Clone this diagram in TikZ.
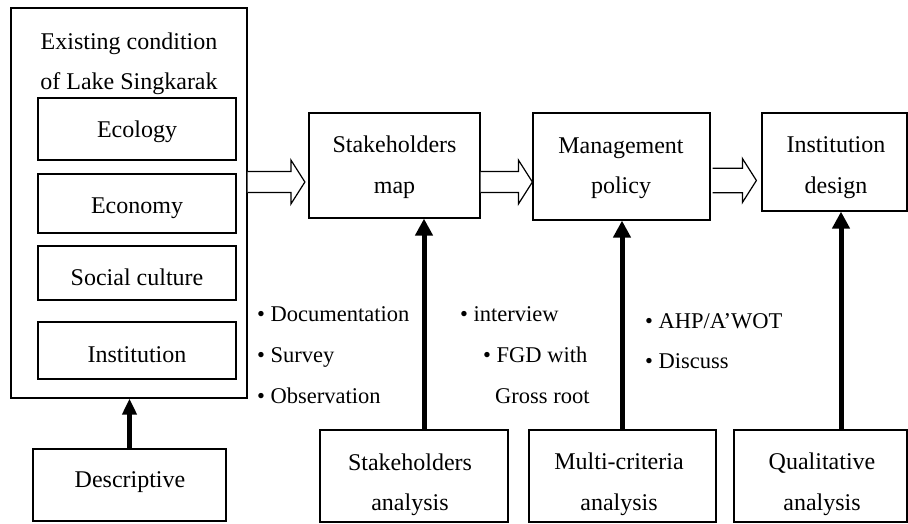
\documentclass[tikz,border=0pt]{standalone}
\usepackage{fontspec}
\setmainfont{Liberation Serif}
\usetikzlibrary{calc,arrows.meta}
\newcommand\hollowarrow[6]{% from, to, y centre, gap at start, gap at tip, shaft half height
  \draw[hollow]
    ($(#1.east |- 0,#3)+(#4,-#6)$) --
    ($(#2.west |- 0,#3)+(-14-#5,-#6)$) --
    ($(#2.west |- 0,#3)+(-14-#5,-22)$) --
    ($(#2.west |- 0,#3)+(-#5,0)$) --
    ($(#2.west |- 0,#3)+(-14-#5,22)$) --
    ($(#2.west |- 0,#3)+(-14-#5,#6)$) --
    ($(#1.east |- 0,#3)+(#4,#6)$);
}
\begin{document}
\begin{tikzpicture}[x=1pt,y=-1pt,
  box/.style={draw,line width=1.2pt,inner sep=0pt},
  hollow/.style={draw,line width=1.2pt,fill=white,line join=miter},
  thickarrow/.style={line width=5pt,-{Triangle[width=17pt,length=17pt]}},
  txt/.style={inner sep=0pt,anchor=base,font=\fontsize{24}{28}\selectfont},
  bul/.style={inner sep=0pt,anchor=base west,font=\fontsize{22.5}{27}\selectfont}]
\useasboundingbox (0,0) rectangle (908,523);
\clip (0,0) rectangle (908,523);
% boxes
\node[box,minimum width=236,minimum height=390] (outer) at (129,203) {};
\node[box,minimum width=198,minimum height=62] (eco) at (137,129) {};
\node[box,minimum width=198,minimum height=59] (econ) at (137,203.5) {};
\node[box,minimum width=198,minimum height=54] (soc) at (137,273) {};
\node[box,minimum width=198,minimum height=57] (inst) at (137,350.5) {};
\node[box,minimum width=193,minimum height=72] (desc) at (129.5,485) {};
\node[box,minimum width=171,minimum height=105] (sm) at (394.5,165.5) {};
\node[box,minimum width=177,minimum height=107] (mp) at (621.5,166.5) {};
\node[box,minimum width=145,minimum height=98] (id) at (834.5,162) {};
\node[box,minimum width=188,minimum height=92] (sa) at (414,476) {};
\node[box,minimum width=187,minimum height=92] (mc) at (622.5,476) {};
\node[box,minimum width=173,minimum height=92] (qa) at (820.5,476) {};
% texts in boxes
\node[txt] (t1) at (129,49) {Existing condition};
\node[txt] (t2) at (129,89) {of Lake Singkarak};
\node[txt] (teco) at (137,137) {Ecology};
\node[txt] (tecon) at (137,213) {Economy};
\node[txt] (tsoc) at (137,285) {Social culture};
\node[txt] (tinst) at (137,362) {Institution};
\node[txt] (tdesc) at (130,487) {Descriptive};
\node[txt] (tsm1) at (394.5,152) {Stakeholders};
\node[txt] (tsm2) at (394.5,193) {map};
\node[txt] (tmp1) at (621,153) {Management};
\node[txt] (tmp2) at (621,193) {policy};
\node[txt] (tid1) at (836,152) {Institution};
\node[txt] (tid2) at (836,193) {design};
\node[txt] (tsa1) at (410,470) {Stakeholders};
\node[txt] (tsa2) at (410,510) {analysis};
\node[txt] (tmc1) at (619,469) {Multi-criteria};
\node[txt] (tmc2) at (619,510) {analysis};
\node[txt] (tqa1) at (822,469) {Qualitative};
\node[txt] (tqa2) at (822,510) {analysis};
% bullet texts
\node[bul] (b1) at (257,321) {\textbullet\ Documentation};
\node[bul] (b2) at (257,362) {\textbullet\ Survey};
\node[bul] (b3) at (257,403) {\textbullet\ Observation};
\node[bul] (b4) at (460,321) {\textbullet\ interview};
\node[bul] (b5) at (483,362) {\textbullet\ FGD with};
\node[bul] (b6) at (495,403) {Gross root};
\node[bul] (b7) at (645,328) {\textbullet\ AHP/A’WOT};
\node[bul] (b8) at (645,368) {\textbullet\ Discuss};
% hollow arrows
\hollowarrow{outer}{sm}{182}{0}{3.5}{10.5}
\hollowarrow{sm}{mp}{182}{0}{0}{10.5}
\hollowarrow{mp}{id}{180.5}{2}{5}{12.2}
% thick arrows
\draw[thickarrow,-{Triangle[width=14pt,length=16pt]}] (desc.north) -- (desc.north |- outer.south);
\draw[thickarrow] (sa.north -| 424,0) -- (sm.south -| 424,0);
\draw[thickarrow] (mc.north -| 622,0) -- (mp.south -| 622,0);
\draw[thickarrow] (qa.north -| 841,0) -- (id.south -| 841,0);
\end{tikzpicture}
\end{document}
